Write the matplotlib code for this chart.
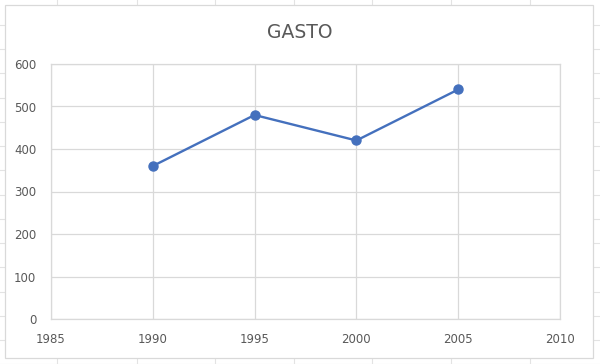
import matplotlib.pyplot as plt
from matplotlib.patches import Rectangle

# data
years = [1990, 1995, 2000, 2005]
gasto = [360, 480, 420, 540]
x_ticks = [1985, 1990, 1995, 2000, 2005, 2010]
y_ticks = [0, 100, 200, 300, 400, 500, 600]
title = "GASTO"

W, H = 600, 364
text_color = "#595959"
grid_color = "#d9d9d9"
line_color = "#4470bd"

fig = plt.figure(figsize=(W / 100, H / 100), dpi=100)
fig.patch.set_facecolor("white")

# spreadsheet cells behind the chart
bg = fig.add_axes([0, 0, 1, 1])
bg.set_xlim(0, W)
bg.set_ylim(H, 0)
bg.axis("off")
for cx in [57, 137, 215, 294, 372, 451, 530]:
    bg.axvline(cx, color="#e3e3e3", lw=0.8)
for ry in range(25, H, 24):
    bg.axhline(ry + (ry - 25) * 0.01, color="#e3e3e3", lw=0.8)
bg.add_patch(Rectangle((4.5, 4.5), 588, 353.5, facecolor="white",
                       edgecolor=grid_color, lw=0.9, zorder=3))

ax = fig.add_axes([51 / W, 1 - 319 / H, 509 / W, 255 / H])
ax.set_facecolor("none")
ax.plot(years, gasto, color=line_color, lw=1.7, marker="o", ms=6.5,
        markerfacecolor=line_color, markeredgecolor=line_color, zorder=3)

ax.set_xlim(x_ticks[0], x_ticks[-1])
ax.set_ylim(y_ticks[0], y_ticks[-1])
ax.set_xticks(x_ticks)
ax.set_yticks(y_ticks)
ax.grid(True, color=grid_color, lw=0.9)
ax.set_axisbelow(True)
for spine in ax.spines.values():
    spine.set_color(grid_color)
    spine.set_linewidth(0.9)
ax.tick_params(axis="both", length=0, colors=text_color, labelsize=8.5)
ax.tick_params(axis="y", pad=10.5)
ax.tick_params(axis="x", pad=10)

fig.text(300 / W, 1 - 33 / H, title, ha="center", va="center",
         fontsize=13.5, color=text_color)

fig.savefig("out.png", dpi=100)
